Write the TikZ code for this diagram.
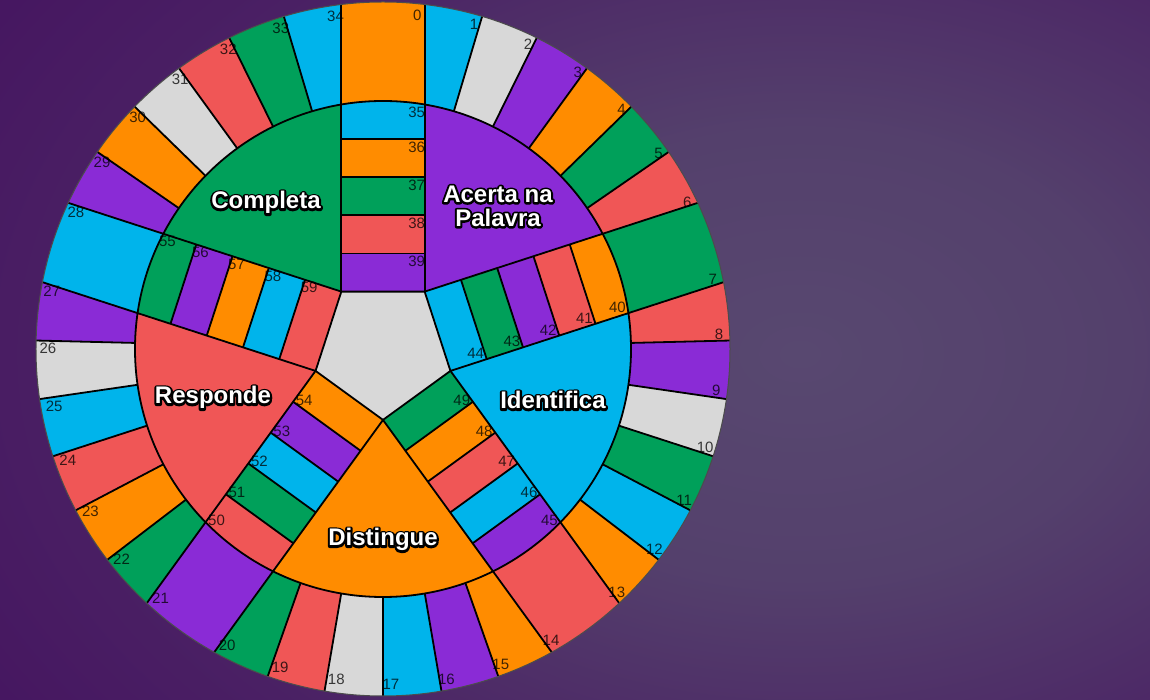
\documentclass[tikz,border=0pt]{standalone}
\usepackage{fontspec}
\setmainfont{Liberation Sans}
\definecolor{cOr}{HTML}{FF8C00}
\definecolor{cCy}{HTML}{00B4EB}
\definecolor{cGy}{HTML}{D8D8D8}
\definecolor{cPu}{HTML}{8A2BD6}
\definecolor{cGn}{HTML}{00A05A}
\definecolor{cRd}{HTML}{F05656}
\definecolor{bgA}{HTML}{584870}
\definecolor{bgB}{HTML}{54406C}
\definecolor{bgC}{HTML}{4A2064}
\definecolor{bgD}{HTML}{43105E}
\definecolor{bgE}{HTML}{3C0956}
\pgfdeclareradialshading{bgshade}{\pgfpoint{0bp}{0bp}}{color(0bp)=(bgA); color(10bp)=(bgB); color(22bp)=(bgC); color(34bp)=(bgD); color(50bp)=(bgE); color(71bp)=(bgE)}
\newcommand\olt[1]{%
  \rlap{\color{black}\special{pdf:literal 1 Tr 4.2 w 1 j 0 0 0 RG}#1\special{pdf:literal 0 Tr}}%
  {\color{white}#1}}
\tikzset{
  sep/.style={line width=1.8pt, draw=black},
  lab/.style={font=\fontsize{15}{17}\selectfont, text=black, text opacity=0.75, inner sep=2.5pt},
  cat/.style={font=\fontsize{24}{26}\selectfont\bfseries, inner sep=0pt, anchor=base},
}
\begin{document}
\begin{tikzpicture}[x=1pt,y=1pt]
\useasboundingbox (-383,-351) rectangle (767,349);
\begin{scope}
  \clip (-383,-351) rectangle (767,349);
  \shade[shading=bgshade] (-403,-565) rectangle (1237,555);
\end{scope}
\def\Ro{347pt}\def\Ri{248pt}\def\Rl{343pt}
\def\dl{6.9}\def\sg{9.7}\def\hw{41.7}\def\ap{57.4}\def\st{38.12}
\begin{scope}
\clip (0,0) circle[radius=\Ro];
% outer ring wedges
\foreach \n/\c in {1/cCy,2/cGy,3/cPu,4/cOr,5/cGn,6/cRd,
                   8/cRd,9/cPu,10/cGy,11/cGn,12/cCy,13/cOr,
                   15/cOr,16/cPu,17/cCy,18/cGy,19/cRd,20/cGn,
                   22/cGn,23/cOr,24/cRd,25/cCy,26/cGy,27/cPu,
                   29/cPu,30/cOr,31/cGy,32/cRd,33/cGn,34/cCy}{
  \pgfmathtruncatemacro\kk{floor(\n/7)}
  \pgfmathtruncatemacro\jj{\n-7*\kk}
  \pgfmathsetmacro\th{90-72*\kk}
  \pgfmathsetmacro\aa{ifthenelse(\jj==1,\th,\th-\dl-\sg*(\jj-1))}
  \pgfmathsetmacro\bb{ifthenelse(\jj==6,\th-72,\th-\dl-\sg*\jj)}
  \fill[\c] (0,0) -- (\aa:\Ro) arc[start angle=\aa,end angle=\bb,radius=\Ro] -- cycle;
}
% radial separators of the ring
\foreach \k in {0,...,4}{
  \foreach \j in {1,...,5}{
    \pgfmathsetmacro\ang{90-72*\k-\dl-\sg*\j}
    \draw[sep] (\ang:\Ri) -- (\ang:\Ro);
  }
}
% category sectors
\foreach \k/\c in {0/cPu,1/cCy,2/cOr,3/cRd,4/cGn}{
  \pgfmathsetmacro\th{90-72*\k}
  \pgfmathsetmacro\te{\th-72}
  \fill[\c] (0,0) -- (\th:\Ri) arc[start angle=\th,end angle=\te,radius=\Ri] -- cycle;
}
% spokes
\foreach \k/\r/\ca/\cb/\cc/\cd/\ce in {0/cOr/cCy/cOr/cGn/cRd/cPu,
                                       1/cGn/cOr/cRd/cPu/cGn/cCy,
                                       2/cRd/cPu/cCy/cRd/cOr/cGn,
                                       3/cPu/cRd/cGn/cCy/cPu/cOr,
                                       4/cCy/cGn/cPu/cOr/cCy/cRd}{
  \begin{scope}[rotate=-72*\k]
    \fill[\r] (-\hw,230) rectangle (\hw,360);
    \begin{scope}
      \clip (0,0) circle[radius=\Ri];
      \fill[\ca] (-\hw,\ap+4*\st) rectangle (\hw,260);
      \fill[\cb] (-\hw,\ap+3*\st) rectangle (\hw,\ap+4*\st);
      \fill[\cc] (-\hw,\ap+2*\st) rectangle (\hw,\ap+3*\st);
      \fill[\cd] (-\hw,\ap+1*\st) rectangle (\hw,\ap+2*\st);
      \fill[\ce] (-\hw,\ap) rectangle (\hw,\ap+1*\st);
    \end{scope}
    \foreach \m in {1,...,4}{\draw[sep] (-\hw,\ap+\m*\st) -- (\hw,\ap+\m*\st);}
    \draw[sep] (-\hw,\ap) -- (-\hw,360) (\hw,\ap) -- (\hw,360);
  \end{scope}
}
% central pentagon
\filldraw[fill=cGy, sep, line join=round] (54:70.9pt) -- (126:70.9pt) -- (198:70.9pt) -- (270:70.9pt) -- (342:70.9pt) -- cycle;
\draw[sep] (0,0) circle[radius=\Ri];
\end{scope}
\draw[line width=1pt, black!70] (0,0) circle[radius=\Ro];
% ring labels
\foreach \n in {1,...,6,8,9,...,13,15,16,...,20,22,23,...,27,29,30,...,34}{
  \pgfmathtruncatemacro\kk{floor(\n/7)}
  \pgfmathtruncatemacro\jj{\n-7*\kk}
  \pgfmathsetmacro\th{90-72*\kk}
  \pgfmathsetmacro\ph{ifthenelse(\jj==6,\th-72+\dl,\th-\dl-\sg*\jj)}
  \pgfmathtruncatemacro\an{mod(round(\ph-45)+720,360)}
  \node[lab, anchor=\an] (r\n) at (\ph:\Rl) {\n};
}
\foreach \k in {0,...,4}{
  \pgfmathtruncatemacro\n{7*\k}
  \pgfmathsetmacro\th{90-72*\k}
  \pgfmathsetmacro\ph{\th-\dl}
  \pgfmathtruncatemacro\an{mod(round(\th-45)+720,360)}
  \node[lab, anchor=\an] (r\n) at (\ph:\Rl) {\n};
}
% spoke labels
\foreach \k in {0,...,4}{
  \pgfmathsetmacro\th{90-72*\k}
  \pgfmathsetmacro\sx{ifthenelse(\k==2,-1,1)}
  \pgfmathtruncatemacro\an{mod(round(\th-45*\sx)+720,360)}
  \begin{scope}[rotate=-72*\k]
    \foreach \i in {0,...,4}{
      \pgfmathsetmacro\yt{ifthenelse(\i==0,244.5,\ap+(5-\i)*\st)}
      \pgfmathtruncatemacro\num{35+5*\k+\i}
      \node[lab, anchor=\an] (s\num) at (\sx*\hw,\yt) {\num};
    }
  \end{scope}
}
% category titles
\node[cat] (completa) at (-117,140) {\olt{Completa}};
\node[cat] (acerta1) at (115,146.5) {\olt{Acerta na}};
\node[cat] (acerta2) at (115,122.5) {\olt{Palavra}};
\node[cat] (identifica) at (170,-60) {\olt{Identifica}};
\node[cat] (distingue) at (0,-197) {\olt{Distingue}};
\node[cat] (responde) at (-170,-55) {\olt{Responde}};
\end{tikzpicture}
\end{document}
